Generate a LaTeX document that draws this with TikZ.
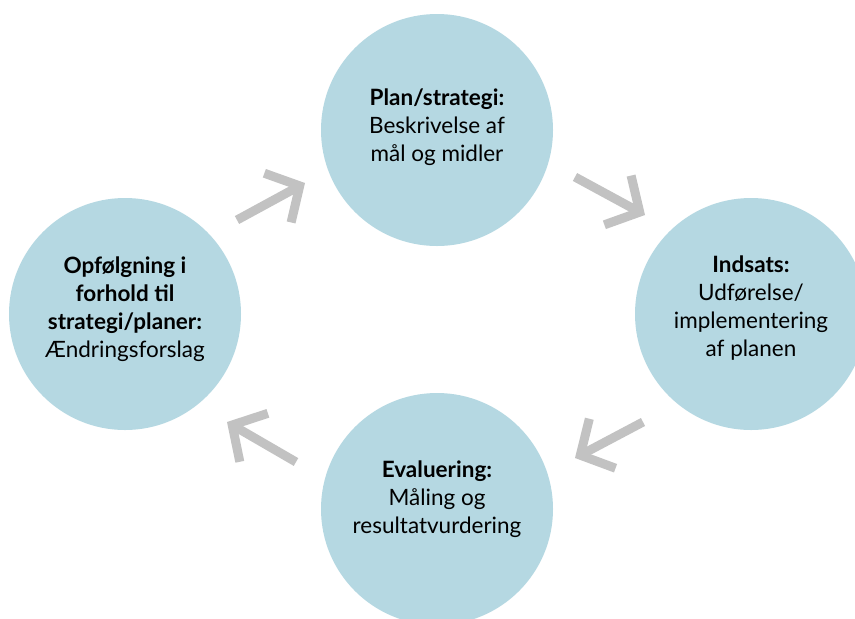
\documentclass[tikz,border=0pt]{standalone}
\usepackage{fontspec}
\setmainfont{Lato}
\usetikzlibrary{arrows.meta}
\definecolor{fasebla}{HTML}{B5D8E2}
\definecolor{pilgra}{HTML}{C2C2C2}
\tikzset{
  fase/.style={circle, fill=fasebla, minimum size=232pt, inner sep=0pt},
  tekst/.style={align=center, inner sep=0pt, font=\fontsize{22.5}{28}\selectfont},
  pil/.style={draw=pilgra, line width=9pt,
    -{Straight Barb[length=25pt,width=56pt,line width=9pt]}}
}
\begin{document}
\begin{tikzpicture}[x=1pt,y=-1pt]
% Ramme
\clip (0,0) rectangle (855,619);
\fill[white] (0,0) rectangle (855,619);

% Faser i cyklussen
\node[fase] (plan) at (437,130) {};
\node[fase] (indsats) at (751,314) {};
\node[fase] (evaluering) at (437,509) {};
\node[fase] (opfolgning) at (125,314) {};

% Tekster
\node[tekst, yshift=3pt] (plantekst) at (plan) {\textbf{Plan/strategi:}\\Beskrivelse af\\mål og midler};
\node[tekst, yshift=6pt] (indsatstekst) at (indsats) {\textbf{Indsats:}\\Udførelse/\\implementering\\af planen};
\node[tekst, yshift=10pt] (evalueringtekst) at (evaluering) {\textbf{Evaluering:}\\Måling og\\resultatvurdering};
\node[tekst, yshift=5pt] (opfolgningtekst) at (opfolgning) {\textbf{Opfølgning i}\\\textbf{forhold til}\\\textbf{strategi/planer:}\\Ændringsforslag};

% Pile mellem faserne
\coordinate (p1a) at (237,220); \coordinate (p1b) at (305,183);
\coordinate (p2a) at (575,177); \coordinate (p2b) at (645,215);
\coordinate (p3a) at (643,422); \coordinate (p3b) at (575,458);
\coordinate (p4a) at (296,462); \coordinate (p4b) at (227,422);
\draw[pil] (p1a) -- (p1b);
\draw[pil] (p2a) -- (p2b);
\draw[pil] (p3a) -- (p3b);
\draw[pil] (p4a) -- (p4b);
\end{tikzpicture}
\end{document}
